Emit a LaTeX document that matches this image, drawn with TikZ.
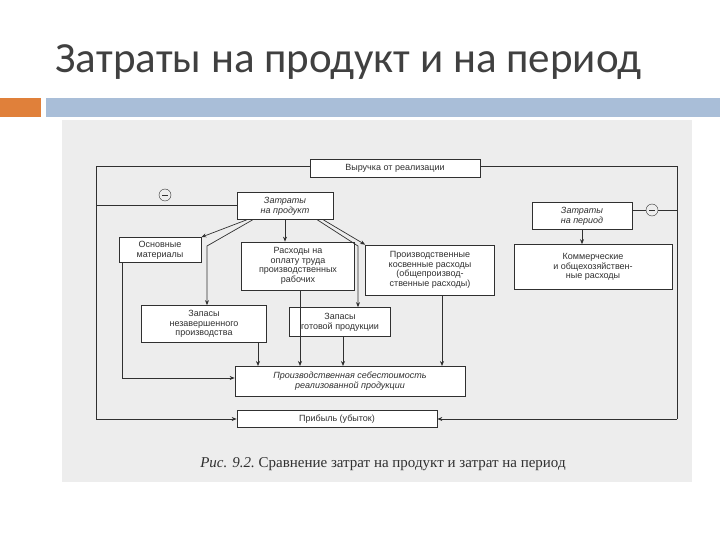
\documentclass[tikz,border=0pt]{standalone}
\usepackage{fontspec}
\setmainfont{Liberation Sans}
\newfontfamily\titlefont{Carlito}
\newfontfamily\capfont{Liberation Serif}
\usetikzlibrary{arrows.meta}
\definecolor{ttl}{HTML}{404040}
\definecolor{org}{HTML}{E0803A}
\definecolor{bar}{HTML}{A9BED8}
\definecolor{scan}{HTML}{EDEDED}
\definecolor{ink}{HTML}{303030}
\begin{document}
\begin{tikzpicture}[x=1pt,y=-1pt,
  bx/.style={draw=ink,line width=0.7pt,fill=white,inner sep=1pt,align=center,font=\fontsize{9}{9.6}\selectfont,text=ink},
  ar/.style={draw=ink,line width=0.7pt,-{Stealth[length=5pt,width=4pt]}},
  ln/.style={draw=ink,line width=0.7pt},
  mn/.style={draw=ink,circle,inner sep=0pt,minimum size=12pt,fill=scan}]
\useasboundingbox (0,0) rectangle (720,540);
\fill[white] (0,0) rectangle (720,540);
\node[anchor=west,text=ttl,font=\titlefont\fontsize{43}{43}\selectfont] (title) at (52,62) {Затраты на продукт и на период};
\fill[org] (0,98) rectangle (41,117);
\fill[bar] (46,98) rectangle (720,117);
\fill[scan] (62,120) rectangle (692,482);
% nodes
\node[bx,minimum width=170pt,minimum height=18pt] (rev) at (395,168) {Выручка от реализации};
\node[bx,minimum width=96pt,minimum height=27pt,font=\itshape\fontsize{9}{9.6}\selectfont] (prod) at (285,206) {Затраты\\на продукт};
\node[bx,minimum width=82pt,minimum height=25pt] (mat) at (160,250) {Основные\\материалы};
\node[bx,minimum width=113pt,minimum height=48pt] (lab) at (298,266) {Расходы на\\оплату труда\\производственных\\рабочих};
\node[bx,minimum width=129pt,minimum height=50pt] (ind) at (430,270) {Производственные\\косвенные расходы\\(общепроизвод-\\ственные расходы)};
\node[bx,minimum width=100pt,minimum height=27pt,font=\itshape\fontsize{9}{9.6}\selectfont] (per) at (582,216) {Затраты\\на период};
\node[bx,minimum width=158pt,minimum height=45pt] (com) at (593,267) {Коммерческие\\и общехозяйствен-\\ные расходы};
\node[bx,minimum width=125pt,minimum height=37pt] (wip) at (204,324) {Запасы\\незавершенного\\производства};
\node[bx,minimum width=101pt,minimum height=29pt] (fg) at (340,322) {Запасы\\готовой продукции};
\node[bx,minimum width=230pt,minimum height=30pt,font=\itshape\fontsize{9}{9.6}\selectfont] (cogs) at (350,381) {Производственная себестоимость\\реализованной продукции};
\node[bx,minimum width=200pt,minimum height=17pt] (pl) at (337,419) {Прибыль (убыток)};
\node[font=\fontsize{15}{15}\selectfont,text=ink] (cap) at (383,464) {\capfont\itshape Рис. 9.2.\upshape\ Сравнение затрат на продукт и затрат на период};
% frame
\coordinate (tl) at (96,166); \coordinate (bl) at (96,419);
\coordinate (tr) at (677,166); \coordinate (br) at (677,419);
\draw[ln] (rev.west|-tl) -- (tl) -- (bl);
\draw[ar] (bl) -- (pl.west);
\draw[ln] (rev.east|-tr) -- (tr) -- (br);
\draw[ar] (br) -- (pl.east);
\coordinate (pm) at (96,205);
\draw[ln] (pm) -- (prod.west|-pm);
\node[mn] (m1) at (165,195) {};
\draw[ln] ([xshift=-3pt]m1.center) -- ([xshift=3pt]m1.center);
\coordinate (qm) at (677,210);
\draw[ln] (per.east|-qm) -- (qm);
\node[mn] (m2) at (652,210) {};
\draw[ln] ([xshift=-3pt]m2.center) -- ([xshift=3pt]m2.center);
% product arrows
\draw[ar] (prod.south west)++(10,0) -- (mat.north east);
\coordinate (a1) at (207,246);
\draw[ar] ([xshift=16pt]prod.south west) -- (a1) -- (a1|-wip.north);
\draw[ar] (prod.south) -- (prod.south|-lab.north);
\draw[ar] ([xshift=-10pt]prod.south east) -- (ind.north west);
\coordinate (a2) at (358,246);
\draw[ar] ([xshift=-16pt]prod.south east) -- (a2) -- (a2|-fg.north);
\draw[ar] (per.south) -- (per.south|-com.north);
% to cogs
\coordinate (b1) at (122,378);
\draw[ar] (b1|-mat.south) -- (b1) -- (b1-|cogs.west);
\coordinate (b2) at (300,366);
\draw[ar] (b2|-lab.south) -- (b2);
\coordinate (b3) at (258,366);
\draw[ar] (b3|-wip.south) -- (b3);
\coordinate (b4) at (343,366);
\draw[ar] (b4|-fg.south) -- (b4);
\coordinate (b5) at (442,366);
\draw[ar] (b5|-ind.south) -- (b5);
\end{tikzpicture}
\end{document}
